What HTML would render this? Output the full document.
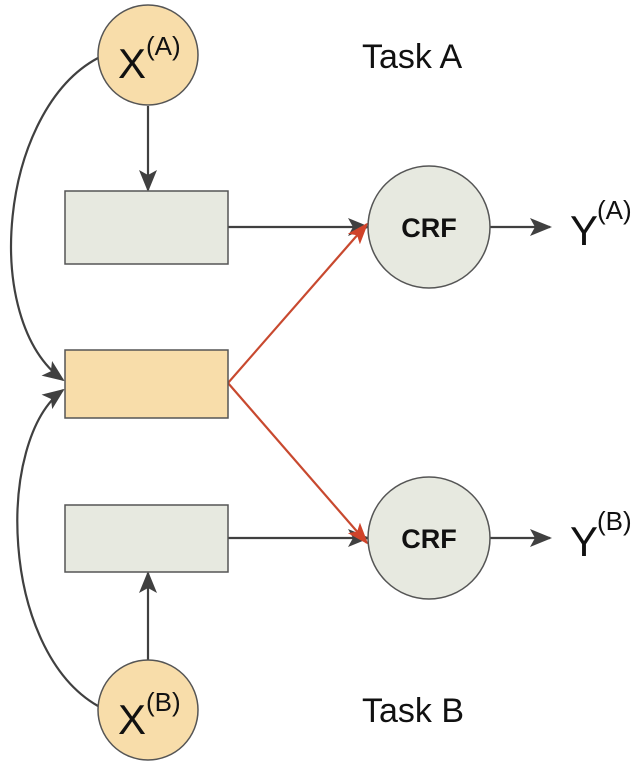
<!DOCTYPE html>
<html><head><style>body{margin:0;background:#fff}svg{display:block}</style></head><body>
<svg width="640" height="766" viewBox="0 0 640 766" xmlns="http://www.w3.org/2000/svg">
<defs>
<marker id="a" markerWidth="10" markerHeight="10" refX="9" refY="5" orient="auto" markerUnits="userSpaceOnUse" viewBox="0 0 10 10"><path d="M0,0 L10,5 L0,10 L3,5 z" fill="#404040"/></marker>
<marker id="ab" markerWidth="22" markerHeight="22" refX="20" refY="11" orient="auto" markerUnits="userSpaceOnUse" viewBox="0 0 22 22"><path d="M0,2 L22,11 L0,20 L5,11 z" fill="#404040"/></marker>
<marker id="r" markerWidth="22" markerHeight="22" refX="20" refY="11" orient="auto" markerUnits="userSpaceOnUse" viewBox="0 0 22 22"><path d="M0,3 L22,11 L0,19 L5,11 z" fill="#d0432a"/></marker>
</defs>
<g stroke="#404040" stroke-width="2.2" fill="none">
<path d="M98,58 C0,110 -20,320 63,380" marker-end="url(#ab)"/>
<path d="M98,706 C0,650 -5,440 63,390" marker-end="url(#ab)"/>
<line x1="148" y1="106" x2="148" y2="190" marker-end="url(#ab)"/>
<line x1="148" y1="660" x2="148" y2="573" marker-end="url(#ab)"/>
<line x1="228" y1="227" x2="368" y2="227" marker-end="url(#ab)"/>
<line x1="228" y1="538" x2="368" y2="538" marker-end="url(#ab)"/>
<line x1="490" y1="227" x2="550" y2="227" marker-end="url(#ab)"/>
<line x1="490" y1="538" x2="550" y2="538" marker-end="url(#ab)"/>
</g>
<g stroke="#c8492f" stroke-width="2.2">
<line x1="228" y1="383" x2="367" y2="224" marker-end="url(#r)"/>
<line x1="228" y1="383" x2="367" y2="543" marker-end="url(#r)"/>
</g>
<g stroke="#555" stroke-width="1.5">
<rect x="65" y="191" width="163" height="73" fill="#e7e9e0"/>
<rect x="65" y="350" width="163" height="68" fill="#f8ddaa"/>
<rect x="65" y="505" width="163" height="67" fill="#e7e9e0"/>
<circle cx="148" cy="55" r="50" fill="#f8ddaa"/>
<circle cx="148" cy="710" r="50" fill="#f8ddaa"/>
<circle cx="429" cy="227" r="61" fill="#e7e9e0"/>
<circle cx="429" cy="538" r="61" fill="#e7e9e0"/>
</g>
<g font-family="Liberation Sans, sans-serif" fill="#111">
<text x="118" y="78" font-size="42">X</text><text x="146" y="55" font-size="26">(A)</text>
<text x="118" y="734" font-size="42">X</text><text x="146" y="711" font-size="26">(B)</text>
<text x="570" y="245" font-size="42">Y</text><text x="597" y="219" font-size="26">(A)</text>
<text x="570" y="556" font-size="42">Y</text><text x="597" y="530" font-size="26">(B)</text>
<text x="362" y="68" font-size="34">Task A</text>
<text x="362" y="722" font-size="34">Task B</text>
<text x="429" y="237" font-size="27" font-weight="bold" text-anchor="middle">CRF</text>
<text x="429" y="548" font-size="27" font-weight="bold" text-anchor="middle">CRF</text>
</g>
</svg>
</body></html>
